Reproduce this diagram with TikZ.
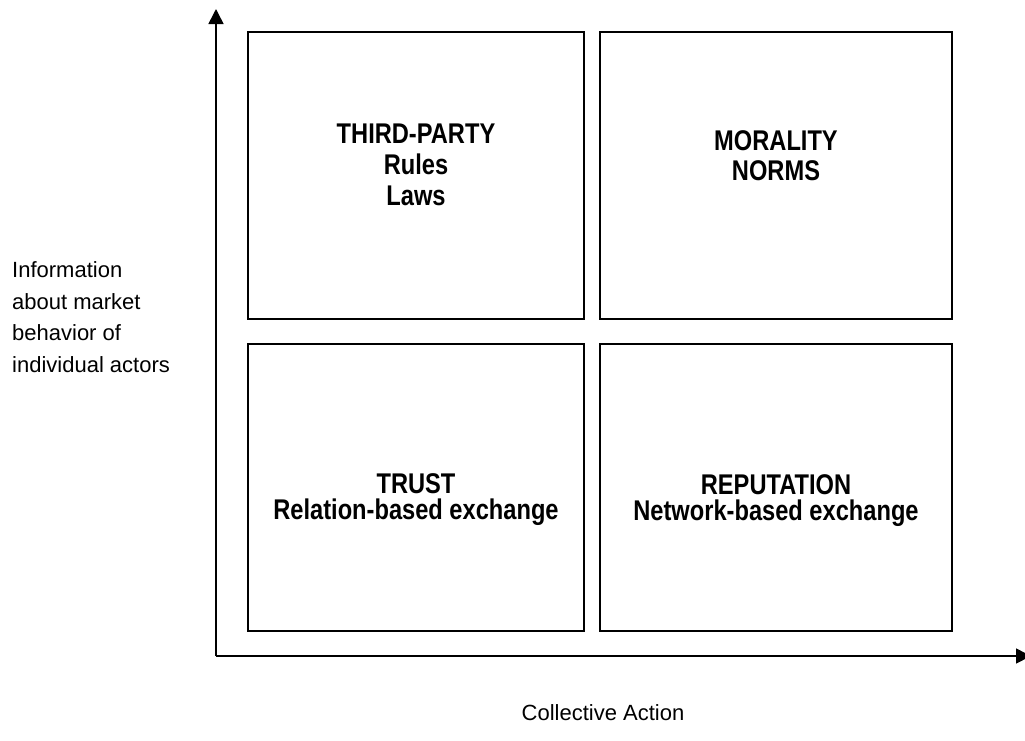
\documentclass[tikz,border=0pt]{standalone}
\usepackage{fontspec}
\setmainfont{Liberation Sans}
\newfontfamily\boxfont{Liberation Sans}[FakeStretch=0.83]
\usetikzlibrary{arrows.meta}
\begin{document}
\begin{tikzpicture}[x=1pt,y=-1pt,
  quad/.style={draw=black,line width=1.6pt,minimum width=336pt,minimum height=287pt,inner sep=0pt},
  quadR/.style={quad,minimum width=352pt},
  boxtxt/.style={anchor=base,inner sep=0pt,font=\boxfont\bfseries\fontsize{28.5}{30}\selectfont},
  axtxt/.style={anchor=base west,inner sep=0pt,font=\fontsize{22}{24}\selectfont},
  axis/.style={line width=1.6pt,-{Triangle[length=15pt,width=15pt]}}]
\useasboundingbox (0,0) rectangle (1025,740);
\fill[white] (0,0) rectangle (1025,740);
% boxes
\node[quad]  (tl) at (416,175.5) {};
\node[quadR] (tr) at (776,175.5) {};
\node[quad]  (bl) at (416,487.5) {};
\node[quadR] (br) at (776,487.5) {};
% box texts
\node[boxtxt] (tl1) at (416,143) {THIRD-PARTY};
\node[boxtxt] (tl2) at (416,174) {Rules};
\node[boxtxt] (tl3) at (416,205.5) {Laws};
\node[boxtxt] (tr1) at (776,150) {MORALITY};
\node[boxtxt] (tr2) at (776,180.5) {NORMS};
\node[boxtxt] (bl1) at (416,493) {TRUST};
\node[boxtxt] (bl2) at (416,519) {Relation-based exchange};
\node[boxtxt] (br1) at (776,494) {REPUTATION};
\node[boxtxt] (br2) at (776,520) {Network-based exchange};
% axes
\coordinate (origin) at (216,656);
\coordinate (ytop) at (216,9);
\coordinate (xend) at (1031,656);
\draw[axis] (origin) -- (ytop);
\draw[axis] (origin) -- (xend);
% axis labels
\node[axtxt] (yl1) at (12,277) {Information};
\node[axtxt] (yl2) at (12,309) {about market};
\node[axtxt] (yl3) at (12,340) {behavior of};
\node[axtxt] (yl4) at (12,372) {individual actors};
\node[anchor=base,inner sep=0pt,font=\fontsize{22}{24}\selectfont] (xl) at (603,720) {Collective Action};
\end{tikzpicture}
\end{document}
